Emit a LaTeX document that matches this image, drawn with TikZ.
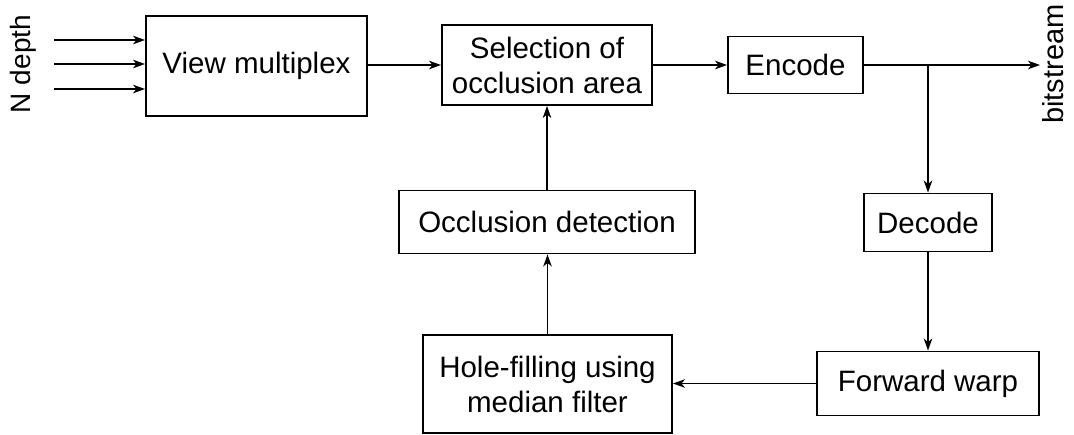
\documentclass[tikz,border=0pt]{standalone}
\usepackage{fontspec}
\setmainfont{Liberation Sans}
\usetikzlibrary{arrows.meta}
\begin{document}
\begin{tikzpicture}[x=1pt,y=-1pt,
  block/.style={draw, line width=1.9pt, inner sep=0pt, align=center,
    font=\fontsize{29.5}{35}\selectfont},
  label/.style={inner sep=0pt, font=\fontsize{29}{35}\selectfont, rotate=90},
  flow/.style={line width=1.7pt, -{Stealth[length=12pt,width=8.5pt,inset=3.5pt]}}]
\useasboundingbox (0,0) rectangle (1074,434);

% processing blocks
\node[block, minimum width=221pt, minimum height=100pt] (vm)  at (256.5,66)  {View multiplex};
\node[block, minimum width=210pt, minimum height=80pt]  (sel) at (547,65)    {Selection of\\occlusion area};
\node[block, minimum width=135pt, minimum height=57pt]  (enc) at (795.5,65) {Encode};
\node[block, minimum width=128pt, minimum height=58pt]  (dec) at (928,222.5)   {Decode};
\node[block, minimum width=222pt, minimum height=64pt]  (fw)  at (928,383.5)   {Forward warp};
\node[block, minimum width=249pt, minimum height=98pt]  (hf)  at (547.5,384) {Hole-filling using\\median filter};
\node[block, minimum width=296pt, minimum height=63pt]  (od)  at (547,222) {Occlusion detection};

% side labels
\node[label, font=\fontsize{28}{34}\selectfont] (nd) at (23,64)  {N depth};
\node[label] (bs) at (1053,64) {bitstream};

% depth inputs
\coordinate (in1) at (54,40);
\coordinate (in2) at (54,64);
\coordinate (in3) at (54,89);
\draw[flow] (in1) -- (in1 -| vm.west);
\draw[flow] (in2) -- (in2 -| vm.west);
\draw[flow] (in3) -- (in3 -| vm.west);

% main chain
\draw[flow] (vm.east |- sel.west) -- (sel.west);
\draw[flow] (sel.east) -- (sel.east -| enc.west);
\coordinate (out) at (1040,65);
\coordinate (br) at (928,65);
\draw[flow] (enc.east) -- (out);
\draw[flow] (br) -- (dec.north);
\draw[flow] (dec.south) -- (fw.north);
\draw[flow] (fw.west) -- (hf.east |- fw.west);
\draw[flow] (hf.north) -- (hf.north |- od.south);
\draw[flow] (od.north) -- (od.north |- sel.south);
\end{tikzpicture}
\end{document}
